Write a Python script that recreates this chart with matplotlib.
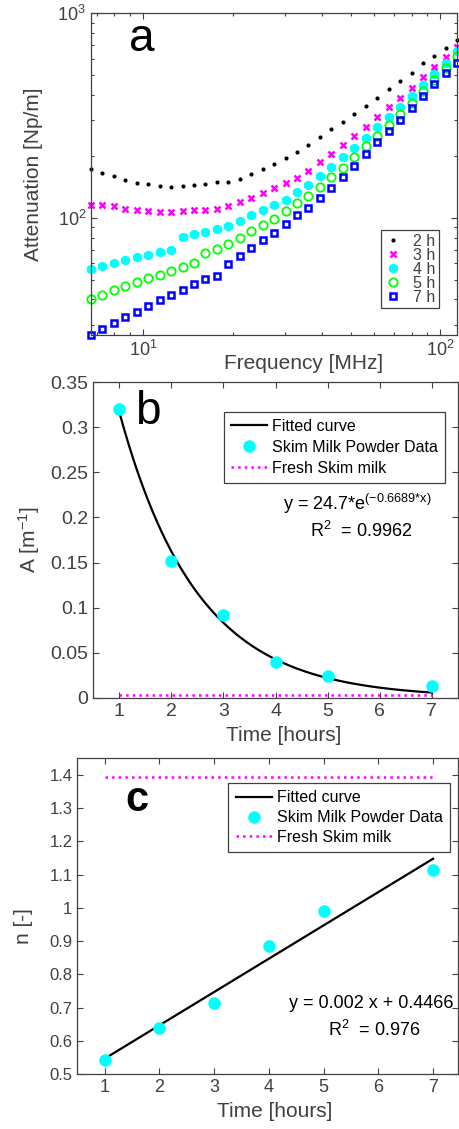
import numpy as np
import matplotlib
matplotlib.use('Agg')
from matplotlib import pyplot as plt
from matplotlib.ticker import FuncFormatter, LogLocator, NullFormatter, MultipleLocator

plt.rcParams['font.family'] = ['Liberation Sans', 'DejaVu Sans']
plt.rcParams['mathtext.fontset'] = 'custom'
plt.rcParams['mathtext.rm'] = 'Liberation Sans'
plt.rcParams['mathtext.it'] = 'Liberation Sans:italic'
plt.rcParams['mathtext.bf'] = 'Liberation Sans:bold'

gray = '#404040'

# panel a: attenuation spectra (MHz, Np/m)
freq = [6.67, 7.29, 7.96, 8.70, 9.51, 10.39, 11.36, 12.41, 13.56, 14.82, 16.19,
        17.69, 19.34, 21.13, 23.09, 25.23, 27.57, 30.13, 32.93, 35.98, 39.32,
        42.97, 46.95, 51.31, 56.08, 61.28, 66.96, 73.17, 79.97, 87.39, 95.50,
        104.3, 114.0]
att_2h = [172.9, 166.5, 160.3, 153.9, 148.8, 146.0, 143.3, 142.3, 143.3, 145.5, 147.2,
          150.5, 149.8, 155.0, 163.9, 172.9, 183.4, 196.2, 209.9, 226.3, 248.5,
          271.8, 295.3, 321.7, 351.9, 386.7, 425.9, 468.0, 512.0, 568.3, 617.0,
          678.3, 741.7]
att_3h = [115.3, 116.2, 114.0, 111.1, 109.0, 107.5, 106.3, 106.3, 107.5, 109.4, 109.9,
          110.6, 114.4, 119.3, 124.8, 132.0, 139.6, 147.7, 157.4, 170.3, 187.6,
          206.2, 227.6, 251.8, 279.5, 311.0, 346.7, 386.7, 432.6, 489.6, 547.6,
          613.5, 686.7]
att_4h = [56.0, 58.3, 60.3, 62.2, 64.1, 65.8, 68.0, 70.0, 80.8, 83.9, 85.5,
          88.1, 91.4, 97.1, 103.9, 109.9, 115.7, 122.7, 133.5, 144.4, 160.3,
          178.1, 197.8, 220.5, 245.6, 277.0, 312.3, 349.5, 392.5, 445.6, 504.2,
          568.3, 650.7]
att_5h = [40.0, 42.2, 44.4, 46.5, 48.5, 50.6, 52.8, 55.3, 57.6, 60.3, 67.6,
          70.2, 74.4, 79.8, 85.9, 92.1, 98.6, 107.5, 118.2, 128.6, 140.9,
          157.6, 176.2, 198.5, 224.5, 252.3, 285.5, 323.2, 362.6, 415.0, 473.3,
          537.4, 615.0]
att_7h = [26.8, 28.6, 30.7, 32.8, 34.8, 37.1, 39.5, 41.9, 44.6, 47.4, 50.5,
          52.1, 59.3, 65.0, 71.4, 77.8, 84.5, 92.9, 102.8, 112.4, 125.4,
          140.7, 158.5, 179.4, 206.2, 234.0, 264.8, 302.0, 342.8, 392.5, 449.1,
          512.0, 570.3]

# panels b and c
hours = [1, 2, 3, 4, 5, 7]
A_powder = [0.32, 0.1517, 0.0918, 0.040, 0.024, 0.013]
A_fresh = 0.0033
A_rate = 0.6689
n_powder = [0.542, 0.639, 0.713, 0.885, 0.990, 1.113]
n_fresh = 1.395


def style(ax, fs):
    ax.tick_params(which='both', direction='in', top=True, right=True,
                   colors=gray, labelsize=fs, width=0.8)
    ax.tick_params(which='major', length=4)
    ax.tick_params(which='minor', length=2.5)
    for s in ax.spines.values():
        s.set_color(gray)
        s.set_linewidth(0.9)


def frame(leg):
    leg.get_frame().set_edgecolor(gray)
    leg.get_frame().set_linewidth(0.9)


fig = plt.figure(figsize=(4.59, 11.29), dpi=100)

# ---- a ----
ax = fig.add_axes([0.1983, 0.7033, 0.798, 0.285])
ax.set_xscale('log')
ax.set_yscale('log')
ax.plot(freq, att_2h, 'o', color='k', ms=3.0, mew=0, label='2 h', clip_on=False)
ax.plot(freq, att_3h, 'x', color='#ff00ff', ms=4.5, mew=1.8, label='3 h', clip_on=False)
ax.plot(freq, att_4h, marker=(6, 2, 0), ls='none', color='#00ffff', ms=6.5, mew=2.6,
        label='4 h', clip_on=False)
ax.plot(freq, att_5h, 'o', mfc='none', mec='#00ff00', ms=6, mew=1.3, label='5 h', clip_on=False)
ax.plot(freq, att_7h, 's', mfc='none', mec='#0000ff', ms=5, mew=1.8, label='7 h', clip_on=False)
ax.set_xlim(freq[0], freq[-1])
ax.set_ylim(att_7h[0], 1000)
ax.xaxis.set_minor_locator(LogLocator(base=10, subs=np.arange(2, 10)))
ax.yaxis.set_minor_locator(LogLocator(base=10, subs=np.arange(2, 10)))
ax.xaxis.set_minor_formatter(NullFormatter())
ax.yaxis.set_minor_formatter(NullFormatter())
style(ax, 13)
ax.set_xlabel('Frequency [MHz]', fontsize=15, color=gray)
ax.set_ylabel('Attenuation [Np/m]', fontsize=15, color=gray)
ax.xaxis.set_label_coords(0.58, -0.06)
ax.yaxis.set_label_coords(-0.13, 0.5)
ax.text(0.138, 0.884, 'a', transform=ax.transAxes, fontsize=33, ha='center', va='baseline')
leg = ax.legend(loc='upper right', bbox_to_anchor=(0.951, 0.326), borderaxespad=0,
                fontsize=11.5, numpoints=1, handlelength=1.0, handletextpad=0.8,
                labelspacing=-0.06, borderpad=0.22, fancybox=False, framealpha=1)
frame(leg)
for t in leg.get_texts():
    t.set_color(gray)

# ---- b ----
ax = fig.add_axes([0.2033, 0.382, 0.7939, 0.2794])
xs = np.linspace(1, 7, 200)
basis = np.exp(-A_rate * np.array(hours))
amp = np.dot(basis, A_powder) / np.dot(basis, basis)
ax.plot(xs, amp * np.exp(-A_rate * xs), 'k-', lw=1.6, label='Fitted curve')
ax.plot(hours, A_powder, 'o', color='#00ffff', ms=8, label='Skim Milk Powder Data', clip_on=False)
ax.plot([1, 7], [A_fresh, A_fresh], ':', color='#ff00ff', lw=1.8, label='Fresh Skim milk')
ax.set_xlim(0.5, 7.5)
ax.set_ylim(0, 0.35)
ax.xaxis.set_major_locator(MultipleLocator(1))
ax.yaxis.set_major_locator(MultipleLocator(0.05))
ax.yaxis.set_major_formatter(FuncFormatter(lambda v, p: '%g' % round(v, 3)))
style(ax, 14)
ax.set_xlabel('Time [hours]', fontsize=15, color=gray)
ax.set_ylabel('A [m$^{-1}$]', fontsize=15, color=gray)
ax.xaxis.set_label_coords(0.523, -0.09)
ax.yaxis.set_label_coords(-0.142, 0.5)
ax.text(0.149, 0.868, 'b', transform=ax.transAxes, fontsize=33, ha='center', va='baseline')
ax.text(0.723, 0.595, 'y = 24.7*e$^{\\mathregular{(-0.6689{*}x)}}$', transform=ax.transAxes,
        fontsize=13, ha='center', va='baseline')
ax.text(0.735, 0.5105, 'R$^{2}$  = 0.9962', transform=ax.transAxes,
        fontsize=13, ha='center', va='baseline')
leg = ax.legend(loc='upper right', bbox_to_anchor=(0.966, 0.907), borderaxespad=0,
                fontsize=11.5, numpoints=1, handlelength=2.3, handletextpad=0.3,
                labelspacing=0.38, borderpad=0.45, fancybox=False, framealpha=1)
frame(leg)

# ---- c ----
ax = fig.add_axes([0.1684, 0.0487, 0.8288, 0.2796])
slope, icpt = np.polyfit(hours, n_powder, 1)
ax.plot([1, 7], [slope * 1 + icpt, slope * 7 + icpt], 'k-', lw=1.6, label='Fitted curve')
ax.plot(hours, n_powder, 'o', color='#00ffff', ms=8, label='Skim Milk Powder Data', clip_on=False)
ax.plot([1, 7], [n_fresh, n_fresh], ':', color='#ff00ff', lw=1.8, label='Fresh Skim milk')
ax.set_xlim(0.5, 7.45)
ax.set_ylim(0.5, 1.45)
ax.xaxis.set_major_locator(MultipleLocator(1))
ax.yaxis.set_major_locator(MultipleLocator(0.1))
ax.yaxis.set_major_formatter(FuncFormatter(lambda v, p: '%g' % round(v, 3)))
style(ax, 13)
ax.tick_params(axis='y', labelsize=12)
ax.set_xlabel('Time [hours]', fontsize=15, color=gray)
ax.set_ylabel('n [-]', fontsize=15, color=gray)
ax.xaxis.set_label_coords(0.518, -0.09)
ax.yaxis.set_label_coords(-0.116, 0.47)
ax.text(0.156, 0.834, 'c', transform=ax.transAxes, fontsize=30, fontweight='bold',
        ha='center', va='baseline')
ax.text(0.772, 0.208, 'y = 0.002 x + 0.4466', transform=ax.transAxes,
        fontsize=13, ha='center', va='baseline')
ax.text(0.78, 0.12, 'R$^{2}$  = 0.976', transform=ax.transAxes,
        fontsize=13, ha='center', va='baseline')
leg = ax.legend(loc='upper right', bbox_to_anchor=(0.98, 0.921), borderaxespad=0,
                fontsize=11.5, numpoints=1, handlelength=2.3, handletextpad=0.3,
                labelspacing=0.3, borderpad=0.45, fancybox=False, framealpha=1)
frame(leg)

plt.savefig('out.png', dpi=100)
